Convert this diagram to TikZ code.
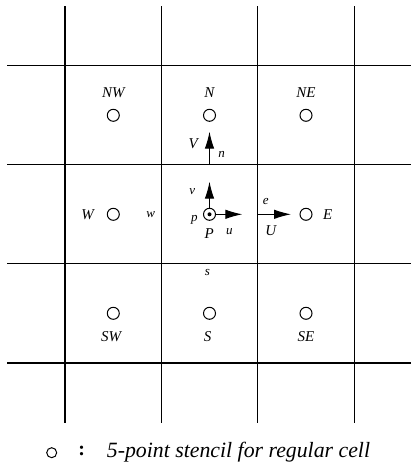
\documentclass[tikz,border=0pt]{standalone}
\usepackage{fontspec}
\setmainfont{Liberation Serif}
\usetikzlibrary{arrows.meta}

\tikzset{
  gridline/.style={line width=1.1pt},
  cellpt/.style={circle, draw, line width=1pt, minimum size=12pt, inner sep=0pt},
  biglbl/.style={font=\itshape\fontsize{15}{15}\selectfont, inner sep=0pt},
  smllbl/.style={font=\itshape\fontsize{13}{13}\selectfont, inner sep=0pt},
  vel/.style={line width=1pt, -{Latex[length=17pt,width=9.5pt]}}
}

\begin{document}
\begin{tikzpicture}[x=1pt, y=-1pt]
  \useasboundingbox (0,0) rectangle (411,466);

  % Cartesian grid
  \foreach \x in {65,161.7,257.7,354.3}
    \draw[gridline] (\x,6) -- (\x,422.7);
  \foreach \y in {65.3,164.7,263.7,363}
    \draw[gridline] (7.3,\y) -- (410.7,\y);

  % Cell centres
  \node[cellpt] (NW) at (113.3,115.3) {};
  \node[cellpt] (N)  at (209.5,115.3) {};
  \node[cellpt] (NE) at (306,115.3) {};
  \node[cellpt] (W)  at (113.3,214.3) {};
  \node[cellpt] (P)  at (209.5,214.3) {};
  \node[cellpt] (E)  at (306,214.3) {};
  \node[cellpt] (SW) at (113.3,313.3) {};
  \node[cellpt] (S)  at (209.5,313.3) {};
  \node[cellpt] (SE) at (306,313.3) {};
  \fill (P) circle (2pt);

  % Labels of the neighbours
  \node[biglbl] at (113.3,92.7) {NW};
  \node[biglbl] at (209.5,92.7) {N};
  \node[biglbl] at (306,92.7) {NE};
  \node[biglbl] at (87.7,214.3) {W};
  \node[biglbl] at (327.7,214.3) {E};
  \node[biglbl] at (111,336.7) {SW};
  \node[biglbl] at (207.5,336.7) {S};
  \node[biglbl] at (306,336.7) {SE};
  \node[biglbl] at (209.3,233.3) {P};

  % Face points
  \coordinate (nface) at (209.5,164.7);
  \coordinate (eface) at (257.7,214.3);
  \coordinate (vtip) at (209.5,181.7);
  \coordinate (utip) at (242.3,214.3);
  \coordinate (Vtip) at (209.5,131.7);
  \coordinate (Utip) at (291,214.3);

  % Velocities
  \draw[vel] (P.north) -- (vtip);
  \draw[vel] (P.east) -- (utip);
  \draw[vel] (nface) -- (Vtip);
  \draw[vel] (eface) -- (Utip);

  \node[biglbl] at (193.3,143.3) {V};
  \node[biglbl] at (270.7,230.7) {U};
  \node[smllbl] at (221.7,154) {n};
  \node[smllbl] at (192.3,191.7) {v};
  \node[smllbl] at (229.3,231.7) {u};
  \node[smllbl] at (194.3,220) {p};
  \node[smllbl] at (265.7,201.7) {e};
  \node[smllbl] at (150.7,215) {w};
  \node[smllbl] at (207.3,272.7) {s};

  % Legend
  \node[cellpt, minimum size=10pt] (key) at (51.7,452.7) {};
  \node[font=\bfseries\fontsize{20}{20}\selectfont, inner sep=0pt] (colon) at (81.7,451) {:};
  \node[font=\itshape\fontsize{21.8}{21.8}\selectfont, inner sep=0pt, anchor=west] (keytext) at (106.7,452)
    {5-point stencil for regular cell};
\end{tikzpicture}
\end{document}
